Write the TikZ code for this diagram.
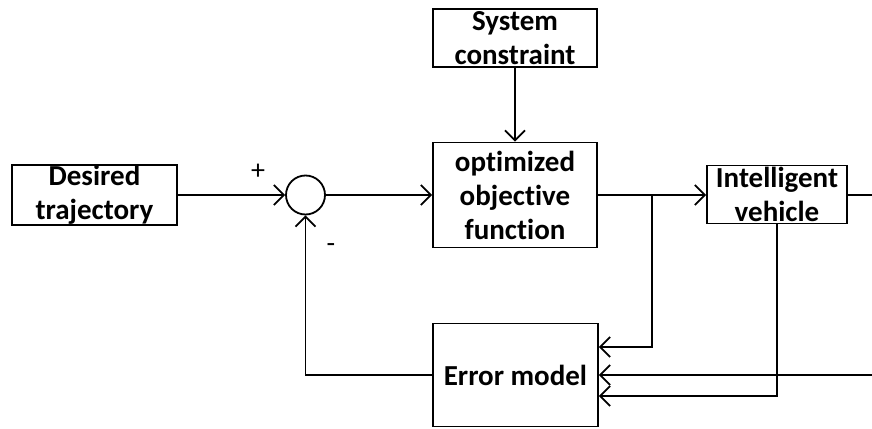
\documentclass[tikz,border=0pt]{standalone}
\usepackage{fontspec}
\setsansfont{Carlito}[Ligatures=NoCommon]
\usetikzlibrary{positioning, arrows.meta, calc}

\begin{document}
\begin{tikzpicture}[
 x=1pt, y=-1pt,
 block/.style={draw, rectangle, line width=1.8pt, align=center, inner sep=0pt},
 sumnode/.style={draw, circle, line width=1.8pt, minimum size=39pt, inner sep=0pt},
 sign/.style={font=\sffamily\fontsize{28}{30}\selectfont, inner sep=0pt},
 arrow/.style={-{Straight Barb[length=10pt, width=20pt]}, line width=1.8pt},
 simplearrow/.style={-, line width=1.8pt},
 font=\sffamily\bfseries\fontsize{29}{34}\selectfont
 ]
  \clip (0,0) rectangle (872,428);

  % Constraint block
  \node[block, minimum width=164pt, minimum height=58pt] (constraint) at (515,38) {System\\constraint};

  % Reference input and summing point
  \node[block, minimum width=165pt, minimum height=59pt] (desired) at (94.5,195) {Desired\\trajectory};
  \node[sumnode] (sum) at (305.5,195) {};
  \node[sign] (plus) at (258,172) {+};
  \node[sign] (minus) at (331,248) {-};

  % Controller and plant
  \node[block, minimum width=164pt, minimum height=105pt] (objective) at (515,195) {optimized\\objective\\function};
  \node[block, minimum width=140pt, minimum height=58pt] (vehicle) at (777,194.5) {Intelligent\\vehicle};

  % Feedback block
  \node[block, minimum width=165pt, minimum height=103pt] (error) at (515.5,375) {Error model};

  % Free ends and branch points
  \coordinate (branch) at (652,195);
  \coordinate (out) at (872,195);
  \coordinate (back) at (872,375);

  % Forward arrows
  \draw[arrow] (constraint) -- (objective);
  \draw[arrow] (desired) -- (sum);
  \draw[arrow] (sum) -- (objective);
  \draw[arrow] (objective.east |- branch) -- (vehicle.west |- branch);
  \draw[simplearrow] (vehicle.east |- out) -- (out);

  % Arrows into the error model
  \draw[arrow] (branch) |- ($(error.east)+(0,-28)$);
  \draw[arrow] (back) -- (error.east);
  \draw[arrow] (vehicle.south) |- ($(error.east)+(0,21)$);

  % Feedback to the summing point
  \draw[arrow] (error.west) -| (sum.south);
\end{tikzpicture}
\end{document}
